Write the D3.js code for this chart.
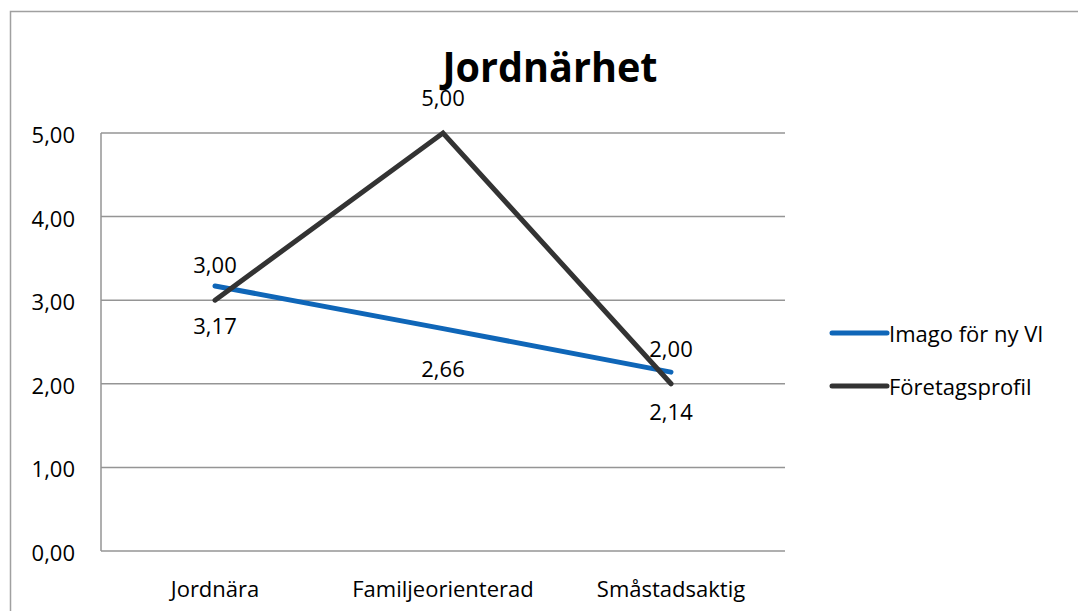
<!DOCTYPE html>
<html>
<head>
<meta charset="utf-8">
<script src="https://cdn.jsdelivr.net/npm/d3@7"></script>
<style>
  body { margin: 0; background: #fff; }
  svg text { font-family: "Open Sans", Lato, sans-serif; fill: #000; }
</style>
</head>
<body>
<svg width="1078" height="611"></svg>
<script>
// chart data
const categories = ['Jordnära', 'Familjeorienterad', 'Småstadsaktig'];
const imagoValues = [3.17, 2.66, 2.14];
const profilValues = [3.00, 5.00, 2.00];
const yTicks = [0, 1, 2, 3, 4, 5];
const seriesNames = ['Imago för ny VI', 'Företagsprofil'];
const seriesColors = ['#0f66b8', '#333333'];

const svg = d3.select('svg');
const fmt = v => d3.format('.2f')(v).replace('.', ',');

// outer frame
svg.append('rect')
  .attr('x', 10.5).attr('y', 11.5)
  .attr('width', 1100).attr('height', 700)
  .attr('fill', 'none').attr('stroke', '#a0a0a0').attr('stroke-width', 1.5);

const plotLeft = 101, plotRight = 785, plotTop = 133, plotBottom = 551;

const x = d3.scaleBand().domain(categories).range([plotLeft, plotRight]);
const y = d3.scaleLinear().domain([0, 5]).range([plotBottom, plotTop]);

// gridlines
svg.append('g').selectAll('line')
  .data(yTicks)
  .enter().append('line')
  .attr('x1', plotLeft).attr('x2', plotRight)
  .attr('y1', d => y(d)).attr('y2', d => y(d))
  .attr('stroke', '#959595').attr('stroke-width', 1.5);

// y axis line
svg.append('line')
  .attr('x1', plotLeft).attr('x2', plotLeft)
  .attr('y1', plotTop).attr('y2', plotBottom)
  .attr('stroke', '#959595').attr('stroke-width', 1.5);

// y tick labels
svg.append('g').selectAll('text')
  .data(yTicks)
  .enter().append('text')
  .attr('x', 75).attr('y', d => y(d) + 10)
  .attr('text-anchor', 'end')
  .attr('font-size', 22)
  .text(d => fmt(d));

// x labels
svg.append('g').selectAll('text')
  .data(categories)
  .enter().append('text')
  .attr('x', d => x(d) + x.bandwidth() / 2)
  .attr('y', 597)
  .attr('text-anchor', 'middle')
  .attr('font-size', 22)
  .text(d => d);

const cx = d => x(d) + x.bandwidth() / 2;
const line = d3.line().x(d => cx(d.cat)).y(d => y(d.v));

const series = [
  { name: seriesNames[0], color: seriesColors[0], values: imagoValues, dy: 48 },
  { name: seriesNames[1], color: seriesColors[1], values: profilValues, dy: -27 }
];

series.forEach(s => {
  const pts = categories.map((c, i) => ({ cat: c, v: s.values[i] }));
  svg.append('path')
    .datum(pts)
    .attr('d', line)
    .attr('fill', 'none')
    .attr('stroke', s.color)
    .attr('stroke-width', 5)
    .attr('stroke-linecap', 'round')
    .attr('stroke-linejoin', 'miter');
});

// data labels
series.forEach(s => {
  svg.append('g').selectAll('text')
    .data(categories.map((c, i) => ({ cat: c, v: s.values[i] })))
    .enter().append('text')
    .attr('x', d => cx(d.cat))
    .attr('y', d => y(d.v) + s.dy)
    .attr('text-anchor', 'middle')
    .attr('font-size', 22)
    .text(d => fmt(d.v));
});

// title
svg.append('text')
  .attr('x', 550).attr('y', 82)
  .attr('text-anchor', 'middle')
  .attr('font-size', 41)
  .attr('font-weight', 'bold')
  .attr('textLength', 215)
  .attr('lengthAdjust', 'spacingAndGlyphs')
  .text('Jordnärhet');

// legend
const legend = svg.append('g').selectAll('g')
  .data(series)
  .enter().append('g')
  .attr('transform', (d, i) => 'translate(832,' + (333 + i * 53) + ')');
legend.append('line')
  .attr('x1', 0).attr('x2', 55)
  .attr('stroke', d => d.color)
  .attr('stroke-width', 5)
  .attr('stroke-linecap', 'round');
legend.append('text')
  .attr('x', 57).attr('y', 9)
  .attr('font-size', 22)
  .text(d => d.name);
</script>
</body>
</html>
